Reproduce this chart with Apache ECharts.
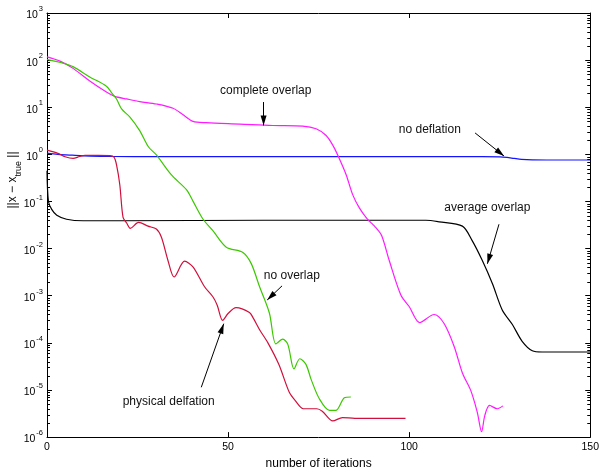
<!DOCTYPE html>
<html><head><meta charset="utf-8">
<script src="https://cdn.jsdelivr.net/npm/echarts@6/dist/echarts.min.js"></script>
<style>html,body{margin:0;padding:0;background:#fff}#c{width:602px;height:475px}</style>
</head><body><div id="c"></div>
<script>
// ---------- data ----------
const xMin = 0, xMax = 150, xStep = 50;
const yMin = 1e-6, yMax = 1e3;

const noDeflX = [0, 3, 7, 12, 18, 30, 60, 100, 120, 125, 127, 129, 131, 134, 140, 150];
const noDeflY = [1.06, 1.0, 0.96, 0.92, 0.9, 0.895, 0.895, 0.895, 0.893, 0.885, 0.86, 0.82, 0.785, 0.765, 0.76, 0.76];

const avgX = [0, 0.4, 1.3, 2.7, 5.4, 10, 20, 60, 100, 104.6, 108.3, 114.7, 117.4, 120.2, 123, 125.7, 128.5, 131.2, 134, 136.7, 150];
const avgY = [0.45, 0.1, 0.068, 0.051, 0.042, 0.039, 0.039, 0.04, 0.04, 0.04, 0.037, 0.030, 0.0148, 0.0056, 0.0018, 0.0005, 0.000245, 0.000108, 6.8e-5, 6.4e-5, 6.4e-5];

const completeX = [0, 3.6, 7.3, 11.8, 16.4, 18.7, 22, 25.6, 30.2, 34.8, 37.6, 40.3, 44, 53.2, 62.3, 70.6, 74.3, 77, 78.9, 80.7, 82.6, 84.4, 86.2, 88.3, 90.8, 92.4, 94.5, 97.7, 100, 102.9, 106.9, 109.6, 112.4, 114.7, 117, 118.8, 120, 120.9, 122.2, 124.3, 125.9];
const completeY = [117, 95, 66, 36, 21, 17, 15, 13.2, 11.7, 9.5, 6.9, 5.0, 4.7, 4.4, 4.1, 3.98, 3.5, 2.54, 1.57, 0.82, 0.37, 0.14, 0.074, 0.044, 0.028, 0.019, 0.0056, 0.00104, 0.00059, 0.00027, 0.0004, 0.00026, 8.5e-5, 2.3e-5, 9.8e-6, 3.4e-6, 1.3e-6, 2.9e-6, 4.7e-6, 4.0e-6, 4.6e-6];

const noOverX = [0, 0.8, 4, 7.3, 11.8, 16.4, 17.8, 19.2, 20.6, 22.9, 25.6, 28, 30.2, 34.3, 38.5, 40.3, 43.1, 45.8, 49.5, 54.1, 56.4, 58.7, 61.4, 63.2, 65.1, 66.5, 68.2, 69.8, 71.5, 72.9, 75.2, 78, 79.8, 82.1, 83.9];
const noOverY = [103, 100, 88, 72, 44, 28, 20.5, 15, 9.2, 6.2, 3.2, 1.45, 0.97, 0.37, 0.178, 0.102, 0.042, 0.024, 0.0107, 0.0083, 0.0048, 0.00155, 0.00043, 9.5e-5, 1.2e-4, 9.3e-5, 2.8e-5, 4.6e-5, 3.5e-5, 1.7e-5, 6.5e-6, 3.7e-6, 3.7e-6, 6.8e-6, 7.1e-6];

const physX = [0, 3, 5, 7.2, 9, 10.5, 14, 17.4, 18.5, 19.2, 20.1, 21, 22, 23, 25.3, 27.9, 30.2, 31.6, 33.4, 35.1, 38, 40.3, 43.5, 45.8, 47, 48.5, 50, 52.2, 55.9, 57, 58.7, 61, 64, 66.9, 68.5, 70.8, 74.5, 76, 78.9, 81.6, 85, 99];
const physY = [1.23, 1.05, 0.89, 0.82, 0.9, 0.95, 0.95, 0.94, 0.87, 0.6, 0.227, 0.046, 0.035, 0.027, 0.036, 0.03, 0.026, 0.0174, 0.0056, 0.0025, 0.0054, 0.0041, 0.00155, 0.00095, 0.00063, 0.0003, 0.00042, 0.00056, 0.00044, 0.00033, 0.00019, 0.0001, 3.5e-5, 8.9e-6, 6.0e-6, 4.0e-6, 4.0e-6, 3.55e-6, 2.2e-6, 2.6e-6, 2.5e-6, 2.5e-6];

// annotations (data coordinates)
const annoText  = ['complete overlap', 'no deflation', 'average overlap', 'no overlap', 'physical delfation'];
const annoTextX = [60.4, 105.7, 121.6, 67.6, 33.6];
const annoTextY = [22.3, 3.40, 0.0737, 0.00272, 5.78e-6];
const arrowFromX = [59.8, 118.2, 124.8, 64.9, 42.6];
const arrowFromY = [12.9, 2.85, 0.0329, 0.00162, 1.14e-5];
const arrowToX   = [59.8, 126.2, 121.6, 60.8, 48.8];
const arrowToY   = [4.12, 0.922, 0.00476, 0.000813, 2.55e-4];

// minor log ticks
const minorMantissa = [2, 3, 4, 5, 6, 7, 8, 9];
const decadeExps = [-6, -5, -4, -3, -2, -1, 0, 1, 2];

// ---------- chart ----------
const FONT = 'Liberation Sans, Arial, Helvetica, sans-serif';
const zip = (xs, ys) => xs.map((x, i) => [x, ys[i]]);
const minorVals = [];
decadeExps.forEach(e => minorMantissa.forEach(m => minorVals.push([xMin, m * Math.pow(10, e)])));

const chart = echarts.init(document.getElementById('c'), null, {renderer: 'canvas'});

function lineSeries(name, xs, ys, color) {
  return {
    name, type: 'line', data: zip(xs, ys), symbol: 'none', showSymbol: false,
    smooth: 0.3, silent: true,
    lineStyle: {color, width: 1.2}, itemStyle: {color}, z: 3
  };
}

const axisLineStyle = {show: true, onZero: false, lineStyle: {color: '#000', width: 1}};

const option = {
  animation: false,
  backgroundColor: '#fff',
  grid: {left: 47, top: 13, width: 544, height: 429},
  xAxis: [
    {type: 'value', min: xMin, max: xMax, interval: xStep, position: 'bottom',
     axisLine: axisLineStyle,
     axisTick: {show: true, inside: true, length: 5, lineStyle: {color: '#000'}},
     axisLabel: {color: '#000', fontSize: 10.5, margin: 5, fontFamily: FONT},
     splitLine: {show: false},
     name: 'number of iterations', nameLocation: 'middle', nameGap: 18,
     nameTextStyle: {color: '#000', fontSize: 12, fontFamily: FONT}},
    {type: 'value', min: xMin, max: xMax, interval: xStep, position: 'top',
     axisLine: axisLineStyle,
     axisTick: {show: true, inside: true, length: 5, lineStyle: {color: '#000'}},
     axisLabel: {show: false}, splitLine: {show: false}}
  ],
  yAxis: [
    {type: 'log', logBase: 10, min: yMin, max: yMax, splitNumber: 9, position: 'left',
     axisLine: axisLineStyle,
     axisTick: {show: true, inside: true, length: 5, lineStyle: {color: '#000'}},
     axisLabel: {
       margin: 4, color: '#000', fontFamily: FONT,
       formatter: v => '{b|10}{s|' + Math.round(Math.log10(v)) + '}',
       rich: {
         b: {fontSize: 10.5, fontFamily: FONT, color: '#000', lineHeight: 16, verticalAlign: 'bottom'},
         s: {fontSize: 7.5, fontFamily: FONT, color: '#000', lineHeight: 16, verticalAlign: 'top', padding: [0, 0, 0, 1]}
       }
     },
     splitLine: {show: false}, minorTick: {show: false}},
    {type: 'log', logBase: 10, min: yMin, max: yMax, splitNumber: 9, position: 'right',
     axisLine: axisLineStyle,
     axisTick: {show: true, inside: true, length: 5, lineStyle: {color: '#000'}},
     axisLabel: {show: false}, splitLine: {show: false}}
  ],
  series: [
    {type: 'custom', name: 'minorTicks', silent: true, clip: false, z: 6,
     data: minorVals, encode: {x: 0, y: 1},
     renderItem: (params, api) => {
       const v = api.value(1);
       const l = api.coord([xMin, v]);
       const r = api.coord([xMax, v]);
       const yy = Math.round(l[1]) + 0.5;
       return {type: 'group', children: [
         {type: 'line', shape: {x1: l[0], y1: yy, x2: l[0] + 3, y2: yy}, style: {stroke: '#000', lineWidth: 1}},
         {type: 'line', shape: {x1: r[0] - 3, y1: yy, x2: r[0], y2: yy}, style: {stroke: '#000', lineWidth: 1}}
       ]};
     }},
    lineSeries('no deflation', noDeflX, noDeflY, '#1414ff'),
    lineSeries('average overlap', avgX, avgY, '#000000'),
    lineSeries('complete overlap', completeX, completeY, '#ff1aff'),
    lineSeries('no overlap', noOverX, noOverY, '#3cc800'),
    lineSeries('physical deflation', physX, physY, '#d0103c'),
    {type: 'line', name: 'annotations', data: [], silent: true, z: 7,
     markLine: {
       silent: true, animation: false,
       symbol: ['none', 'triangle'], symbolSize: [6, 10], symbolOffset: [0, [0, 5]],
       label: {show: false},
       lineStyle: {color: '#000', width: 1, type: 'solid'},
       itemStyle: {color: '#000'},
       emphasis: {disabled: true},
       data: arrowFromX.map((fx, i) => [
         {coord: [fx, arrowFromY[i]]},
         {coord: [arrowToX[i], arrowToY[i]]}
       ])
     },
     markPoint: {
       silent: true, animation: false,
       symbol: 'circle', symbolSize: 0,
       itemStyle: {color: 'rgba(0,0,0,0)'},
       label: {show: true, position: 'inside', color: '#111', fontSize: 12, fontFamily: FONT,
               formatter: p => p.name},
       emphasis: {disabled: true},
       data: annoText.map((t, i) => ({name: t, coord: [annoTextX[i], annoTextY[i]]}))
     }}
  ],
  graphic: [
    {type: 'text', x: 15, y: 180, rotation: Math.PI / 2, silent: true,
     style: {
       text: '{b|||x − x}{s|true}{b| ||}',
       align: 'center', verticalAlign: 'middle',
       rich: {
         b: {fontSize: 12, fontFamily: FONT, fill: '#000', color: '#000', lineHeight: 17, verticalAlign: 'top'},
         s: {fontSize: 9, fontFamily: FONT, fill: '#000', color: '#000', lineHeight: 17, verticalAlign: 'bottom'}
       }
     }}
  ]
};
chart.setOption(option);
</script>
</body></html>
